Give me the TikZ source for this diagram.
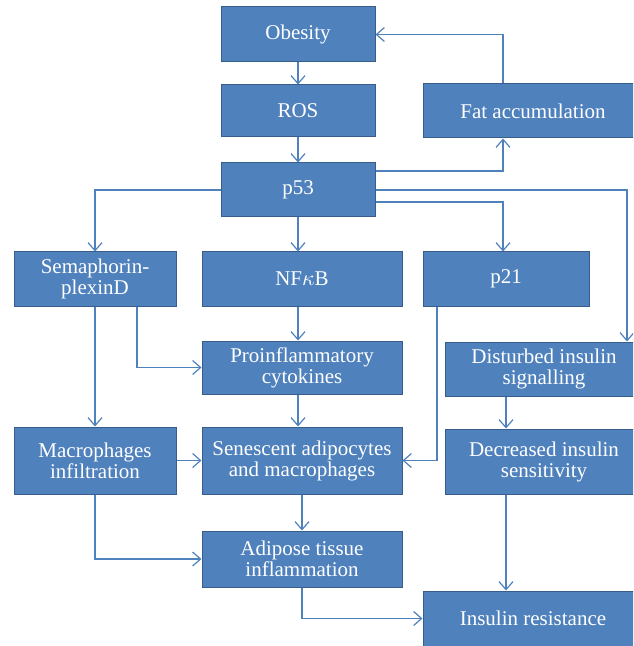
\documentclass[tikz,border=0pt]{standalone}
\usepackage{fontspec}
\setmainfont{Liberation Serif}
\usepackage{xcolor}
\usepackage{tikz}
\usetikzlibrary{arrows.meta, positioning}
\definecolor{boxblue}{HTML}{4F81BD}
\definecolor{boxedge}{HTML}{385D8A}

\begin{document}
\begin{tikzpicture}[
  box/.style={draw=boxedge, fill=boxblue, line width=0.5pt, text=white, inner sep=2pt, align=center,
    font=\fontsize{10.5pt}{10.5pt}\selectfont},
  arr/.style={draw=boxblue, line width=0.6pt, -{Straight Barb[length=4pt, width=7pt]}}
]
\useasboundingbox (0,0) rectangle (316.5pt,-323pt);
\clip (0,0) rectangle (316.5pt,-323pt);
\node[box, minimum width=77pt, minimum height=27.5pt] (obesity) at (149pt,-17.25pt) {Obesity};
\node[box, below=11pt of obesity, minimum width=77pt, minimum height=26pt] (ros) {ROS};
\node[box, right=23.5pt of ros, minimum width=110pt, minimum height=27pt] (fat) {Fat accumulation};
\node[box, below=12.5pt of ros, minimum width=77pt, minimum height=27pt] (p53) {p53};
\node[box, below=17pt of p53, xshift=2pt, minimum width=100pt, minimum height=27pt] (nfkb) {NF$\kappa$B};
\node[box, left=12.5pt of nfkb, minimum width=81pt, minimum height=27pt] (sema) {Semaphorin-\\plexinD};
\node[box, right=10pt of nfkb, minimum width=83pt, minimum height=27pt] (p21) {p21};
\node[box, below=17pt of nfkb, minimum width=100pt, minimum height=26.5pt] (procyt) {Proinflammatory\\cytokines};
\node[box, right=21pt of procyt, yshift=-0.75pt, minimum width=99pt, minimum height=27pt] (disturbed) {Disturbed insulin\\signalling};
\node[box, below=16pt of procyt, minimum width=100pt, minimum height=33.5pt] (senescent) {Senescent adipocytes\\and macrophages};
\node[box, left=12.5pt of senescent, minimum width=81pt, minimum height=33.5pt] (macro) {Macrophages\\infiltration};
\node[box, right=21pt of senescent, yshift=-0.5pt, minimum width=99pt, minimum height=32.5pt] (decreased) {Decreased insulin\\sensitivity};
\node[box, below=18pt of senescent, minimum width=100pt, minimum height=28pt] (adipose) {Adipose tissue\\inflammation};
\node[box, below=48pt of decreased, xshift=-5.5pt, minimum width=110pt, minimum height=27.5pt] (insres) {Insulin resistance};

\draw[arr] (obesity) -- (ros);
\draw[arr] (ros) -- (p53);
\draw[arr] ([yshift=9.5pt]p53.east) -| ([xshift=-15pt]fat.south);
\draw[arr] ([xshift=-15pt]fat.north) |- (obesity.east);
\draw[arr] (p53.west) -| (sema.north);
\draw[arr] (p53.south) -- (p53.south |- nfkb.north);
\draw[arr] ([yshift=-6pt]p53.east) -| ([xshift=-1.5pt]p21.north);
\draw[arr] (p53.east) -| ([xshift=41.5pt]disturbed.north);
\draw[arr] ([xshift=21pt]sema.south) |- (procyt.west);
\draw[arr] (sema) -- (macro);
\draw[arr] ([xshift=-2pt]nfkb.south) -- ([xshift=-2pt]procyt.north);
\draw[arr] ([xshift=-2pt]procyt.south) -- ([xshift=-2pt]senescent.north);
\draw[arr] ([xshift=-34.5pt]p21.south) |- (senescent.east);
\draw[arr] ([xshift=-19pt]disturbed.south) -- ([xshift=-19pt]decreased.north);
\draw[arr] ([xshift=-19pt]decreased.south) -- ([xshift=-13.5pt]insres.north);
\draw[arr] (macro) -- (senescent);
\draw[arr] (macro.south) |- (adipose.west);
\draw[arr] (senescent) -- (adipose);
\draw[arr] (adipose.south) |- (insres.west);
\end{tikzpicture}
\end{document}
